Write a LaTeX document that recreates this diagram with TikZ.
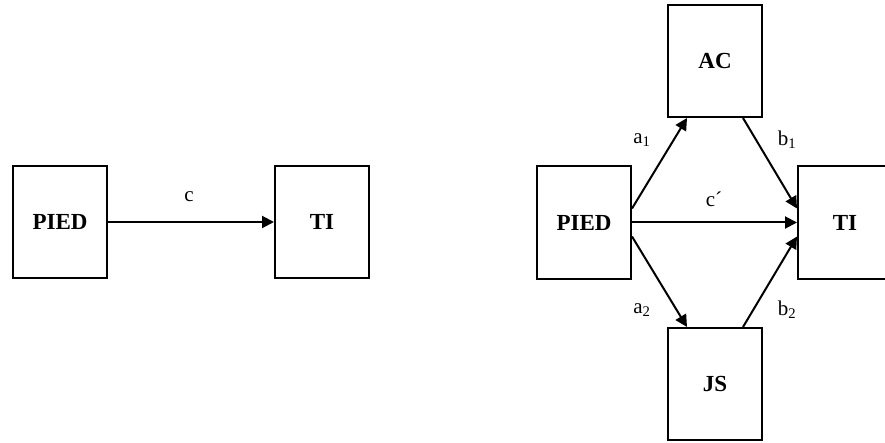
\documentclass[tikz,border=0pt]{standalone}
\usepackage{fontspec}
\setmainfont{Liberation Serif}
\usetikzlibrary{arrows.meta}
\begin{document}
\begin{tikzpicture}[x=1pt,y=1pt,
  box/.style={draw,line width=2pt,minimum width=94pt,minimum height=112pt,
    inner sep=0pt,font=\fontsize{23}{26}\selectfont\bfseries},
  link/.style={line width=2pt,-{Triangle[length=12pt,width=12pt]}},
  lbl/.style={font=\fontsize{21}{24}\selectfont,inner sep=0pt}]
  \clip (0,0) rectangle (885,442);
  % total effect model
  \node[box] (pa) at (60,220) {PIED};
  \node[box] (ta) at (322,220) {TI};
  \draw[link] (pa) -- (ta);
  \node[lbl] (lc) at (189,245) {c};
  % mediation model
  \node[box] (pb) at (584,219.5) {PIED};
  \node[box] (tb) at (845,219.5) {TI};
  \node[box] (ac) at (715,381) {AC};
  \node[box] (js) at (715,58) {JS};
  \draw[link] ([yshift=14pt]pb.east) -- ([xshift=-28pt]ac.south);
  \draw[link] ([xshift=28pt]ac.south) -- ([yshift=14pt]tb.west);
  \draw[link] (pb) -- (tb);
  \draw[link] ([yshift=-14pt]pb.east) -- ([xshift=-28pt]js.north);
  \draw[link] ([xshift=28pt]js.north) -- ([yshift=-14pt]tb.west);
  \node[lbl] (la1) at (642,302) {a\textsubscript{1}};
  \node[lbl] (lb1) at (787,302) {b\textsubscript{1}};
  \node[lbl] (lcp) at (714,243) {c´};
  \node[lbl] (la2) at (642,132) {a\textsubscript{2}};
  \node[lbl] (lb2) at (787,132) {b\textsubscript{2}};
\end{tikzpicture}
\end{document}
